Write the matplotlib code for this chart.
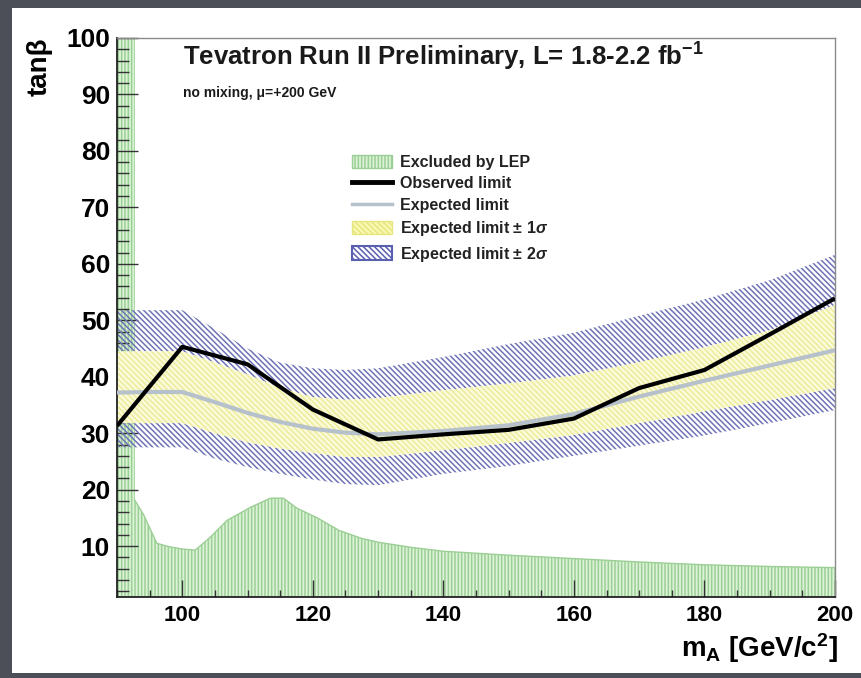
import matplotlib
matplotlib.use("Agg")
import matplotlib.pyplot as plt
import matplotlib.patches as mpatches
from matplotlib.lines import Line2D
from matplotlib.ticker import MultipleLocator

# ROOT-like look: bold helvetica-ish text everywhere
plt.rcParams['font.family'] = ['Liberation Sans', 'DejaVu Sans']
plt.rcParams['font.weight'] = 'bold'
plt.rcParams['axes.labelweight'] = 'bold'
plt.rcParams['mathtext.fontset'] = 'custom'
plt.rcParams['mathtext.rm'] = 'Liberation Sans:bold'
plt.rcParams['mathtext.it'] = 'Liberation Sans:italic:bold'
plt.rcParams['mathtext.bf'] = 'Liberation Sans:bold'
plt.rcParams['hatch.linewidth'] = 1.1

# observed 95% CL limit (10 GeV steps)
mass_obs = [90, 100, 110, 120, 130, 140, 150, 160, 170, 180, 190, 200]
tanb_obs = [31.3, 45.3, 42.2, 34.2, 28.9, 29.8, 30.6, 32.6, 38.0, 41.2, 47.5, 53.9]

# expected limit and its 1 and 2 sigma bands
mass_exp = [90, 95, 100, 105, 110, 115, 120, 125, 130, 140, 150, 160, 170, 180, 190, 200]
tanb_exp = [37.2, 37.3, 37.3, 35.5, 33.6, 32.0, 30.8, 30.1, 29.8, 30.4, 31.4, 33.4, 36.5, 39.3, 42.0, 44.7]
band_up2 = [51.8, 51.8, 51.8, 48.5, 45.0, 42.5, 41.5, 41.2, 41.5, 43.5, 45.8, 47.8, 50.8, 53.7, 57.1, 61.6]
band_up1 = [44.5, 44.5, 44.5, 42.5, 40.4, 38.0, 36.4, 35.9, 36.2, 37.6, 38.8, 40.2, 42.6, 45.2, 48.2, 52.7]
band_lo1 = [31.8, 31.8, 31.8, 30.0, 28.4, 27.3, 26.5, 25.8, 25.8, 27.0, 28.3, 29.7, 31.8, 33.9, 35.9, 38.0]
band_lo2 = [27.5, 27.5, 27.5, 25.5, 24.0, 22.8, 21.8, 21.0, 20.8, 22.8, 24.2, 26.0, 27.8, 29.6, 31.8, 34.1]

# LEP exclusion: a strip at low m_A plus the region under this curve
lep_strip = [90, 92.7]
lep_mass = [92.7, 94.1, 96.1, 98, 100, 102, 104.3, 106.9, 110.5, 113.5, 115.5, 117.6,
            120.7, 124, 127.4, 130, 135, 140, 150, 160, 170, 180, 190, 200]
lep_tanb = [18.2, 15.5, 10.5, 9.9, 9.5, 9.3, 11.6, 14.6, 16.9, 18.5, 18.5, 16.7,
            15.0, 12.8, 11.4, 10.7, 9.8, 9.1, 8.4, 7.8, 7.2, 6.7, 6.4, 6.2]

xmin, xmax = 90, 200
ymin, ymax = 1, 100

green_face = '#dcf3d8'
green_line = '#9ccf95'
blue_hatch = '#6e73b6'
yellow_face = '#fbfbdc'
yellow_hatch = '#ecec9a'
gray_line = '#b7c1cb'
diag = '\\' * 6

fig = plt.figure(figsize=(8.61, 6.78), dpi=100, facecolor='#4c4f57')
# white slide panel behind the plot
fig.patches.append(mpatches.Rectangle((0.0139, 0.0074), 0.99, 0.9808,
                                      transform=fig.transFigure,
                                      facecolor='white', edgecolor='none', zorder=-1))

ax = fig.add_axes([0.1359, 0.1195, 0.8339, 0.8245])
ax.set_facecolor('white')

# LEP excluded region
ax.fill_between(lep_strip, ymin, ymax, facecolor=green_face, edgecolor=green_line,
                hatch='|||||', linewidth=0, zorder=1)
ax.fill_between(lep_mass, ymin, lep_tanb, facecolor=green_face, edgecolor=green_line,
                hatch='|||||', linewidth=0, zorder=1)
ax.plot(lep_mass, lep_tanb, color=green_line, lw=1.0, zorder=1.5)

# 2 sigma band (outer parts only) and 1 sigma band
ax.fill_between(mass_exp, band_up1, band_up2, facecolor='none', edgecolor=blue_hatch,
                hatch=diag, linewidth=0, zorder=2)
ax.fill_between(mass_exp, band_lo2, band_lo1, facecolor='none', edgecolor=blue_hatch,
                hatch=diag, linewidth=0, zorder=2)
ax.fill_between(mass_exp, band_lo1, band_up1, facecolor=yellow_face, edgecolor=yellow_hatch,
                hatch=diag, linewidth=0, zorder=2)

ax.plot(mass_exp, tanb_exp, color=gray_line, lw=3.0, zorder=3, solid_capstyle='butt')
ax.plot(mass_obs, tanb_obs, color='black', lw=3.0, zorder=4, solid_capstyle='butt')

ax.set_xlim(xmin, xmax)
ax.set_ylim(ymin, ymax)

ax.xaxis.set_major_locator(MultipleLocator(20))
ax.xaxis.set_minor_locator(MultipleLocator(5))
ax.yaxis.set_minor_locator(MultipleLocator(2))
ax.set_yticks([10, 20, 30, 40, 50, 60, 70, 80, 90, 100])

ax.tick_params(axis='x', which='major', direction='in', length=12, width=1.0,
               labelsize=16, pad=6, color='#333333')
ax.tick_params(axis='x', which='minor', direction='in', length=5, width=1.0, color='#333333')
ax.tick_params(axis='y', which='major', direction='in', length=15, width=1.0,
               labelsize=19, pad=5, color='#333333')
ax.tick_params(axis='y', which='minor', direction='in', length=8.5, width=1.0, color='#333333')
ax.tick_params(top=False, right=False, which='both')

for side in ('left', 'bottom'):
    ax.spines[side].set_color('#222222')
    ax.spines[side].set_linewidth(1.3)
for side in ('top', 'right'):
    ax.spines[side].set_color('#8a8a8a')
    ax.spines[side].set_linewidth(1.0)

ax.set_ylabel('tanβ', fontsize=20, loc='top')
ax.yaxis.set_label_coords(-0.089, 1.0)
ax.set_xlabel(r'm$_{\mathrm{A}}$ [GeV/c$^{\mathrm{2}}$]', fontsize=20, loc='right')
ax.xaxis.set_label_coords(1.004, -0.062)

fig.text(0.2125, 0.9159, r'Tevatron Run II Preliminary, L= 1.8-2.2 fb$^{\mathrm{-1}}$',
         fontsize=18.5, va='center', ha='left', color='#1a1a1a')
fig.text(0.2125, 0.8628, 'no mixing, μ=+200 GeV', fontsize=10, va='center', ha='left',
         color='#1a1a1a')

handles = [
    mpatches.Patch(facecolor=green_face, edgecolor=green_line, hatch='|||||', lw=1),
    Line2D([], [], color='black', lw=3.5),
    Line2D([], [], color=gray_line, lw=2.5),
    mpatches.Patch(facecolor='#f8f8b0', edgecolor='#e6e680', hatch=diag, lw=1),
    mpatches.Patch(facecolor='white', edgecolor='#5a5fb0', hatch=diag, lw=1.5),
]
labels = ['Excluded by LEP', 'Observed limit', 'Expected limit',
          r'Expected limit $\pm$ 1$\it{\sigma}$', r'Expected limit $\pm$ 2$\it{\sigma}$']
leg = fig.legend(handles, labels, loc='upper left', bbox_to_anchor=(0.4088, 0.7720),
                 frameon=False, fontsize=11.5, handlelength=2.5, handleheight=0.9,
                 handletextpad=0.5, labelspacing=0.4, borderpad=0, borderaxespad=0)
for t in leg.get_texts():
    t.set_color('#222222')

fig.savefig('out.png', dpi=100, facecolor=fig.get_facecolor())
